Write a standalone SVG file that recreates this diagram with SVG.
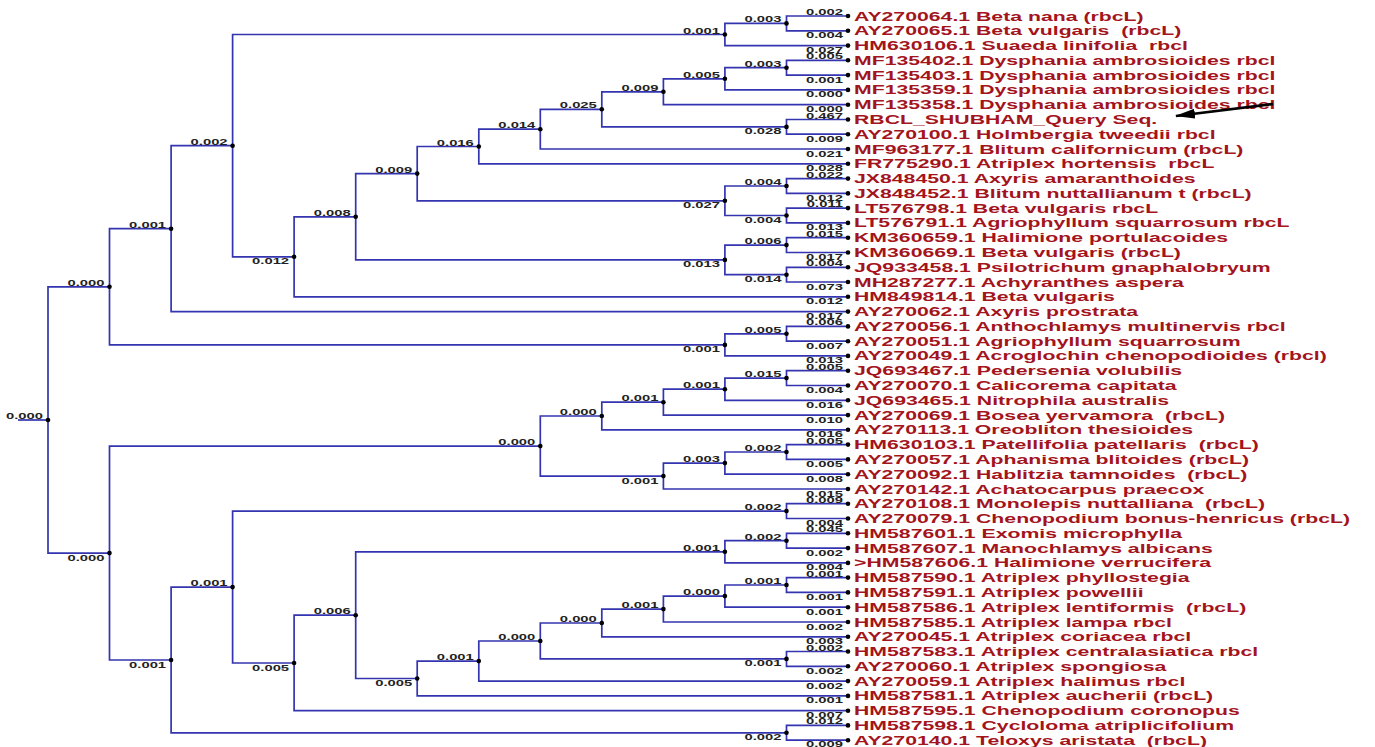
<svg xmlns="http://www.w3.org/2000/svg" width="1375" height="747" viewBox="0 0 1375 747">
<style>
.lf{font-family:"Liberation Sans",Arial,sans-serif;font-weight:bold;font-size:12.5px;fill:#a3141c;white-space:pre}
.bl{font-family:"Liberation Sans",Arial,sans-serif;font-weight:bold;font-size:8.5px;fill:#222;text-anchor:end}
#edges path{fill:none;stroke:#3434b0;stroke-width:1.7}
circle{fill:#000}
</style>
<defs>
<marker id="ah" viewBox="0 0 20 10" refX="19" refY="5" markerWidth="20" markerHeight="10" orient="auto" markerUnits="userSpaceOnUse"><path d="M0 0 L20 5 L0 10 z" fill="#000"/></marker>
</defs>
<rect width="1375" height="747" fill="#fff"/>
<g id="edges">
<path d="M848 16 H786.5 V30.8 H848"/>
<path d="M786.5 23.4 H724.9 V45.6 H848"/>
<path d="M848 60.3 H786.5 V75.1 H848"/>
<path d="M786.5 67.7 H724.9 V89.9 H848"/>
<path d="M724.9 78.8 H663.4 V104.7 H848"/>
<path d="M848 119.5 H786.5 V134.2 H848"/>
<path d="M663.4 91.8 H601.8 V126.9 H786.5"/>
<path d="M601.8 109.3 H540.3 V149 H848"/>
<path d="M540.3 129.2 H478.8 V163.8 H848"/>
<path d="M848 178.6 H786.5 V193.4 H848"/>
<path d="M848 208.1 H786.5 V222.9 H848"/>
<path d="M786.5 186 H724.9 V215.5 H786.5"/>
<path d="M478.8 146.5 H417.2 V200.8 H724.9"/>
<path d="M848 237.7 H786.5 V252.5 H848"/>
<path d="M848 267.3 H786.5 V282 H848"/>
<path d="M786.5 245.1 H724.9 V274.7 H786.5"/>
<path d="M417.2 173.6 H355.7 V259.9 H724.9"/>
<path d="M355.7 216.8 H294.1 V296.8 H848"/>
<path d="M724.9 34.5 H232.6 V256.8 H294.1"/>
<path d="M232.6 145.7 H171.1 V311.6 H848"/>
<path d="M848 326.4 H786.5 V341.2 H848"/>
<path d="M786.5 333.8 H724.9 V355.9 H848"/>
<path d="M171.1 228.7 H109.5 V344.9 H724.9"/>
<path d="M848 370.7 H786.5 V385.5 H848"/>
<path d="M786.5 378.1 H724.9 V400.3 H848"/>
<path d="M724.9 389.2 H663.4 V415.1 H848"/>
<path d="M663.4 402.2 H601.8 V429.8 H848"/>
<path d="M848 444.6 H786.5 V459.4 H848"/>
<path d="M786.5 452 H724.9 V474.2 H848"/>
<path d="M724.9 463.1 H663.4 V489 H848"/>
<path d="M601.8 416 H540.3 V476.1 H663.4"/>
<path d="M848 503.7 H786.5 V518.5 H848"/>
<path d="M848 533.3 H786.5 V548.1 H848"/>
<path d="M786.5 540.7 H724.9 V562.9 H848"/>
<path d="M848 577.6 H786.5 V592.4 H848"/>
<path d="M786.5 585 H724.9 V607.2 H848"/>
<path d="M724.9 596.1 H663.4 V622 H848"/>
<path d="M663.4 609.1 H601.8 V636.8 H848"/>
<path d="M848 651.5 H786.5 V666.3 H848"/>
<path d="M601.8 623 H540.3 V658.9 H786.5"/>
<path d="M540.3 641 H478.8 V681.1 H848"/>
<path d="M478.8 661.1 H417.2 V695.9 H848"/>
<path d="M724.9 551.8 H355.7 V678.5 H417.2"/>
<path d="M355.7 615.2 H294.1 V710.7 H848"/>
<path d="M786.5 511.1 H232.6 V663 H294.1"/>
<path d="M848 725.4 H786.5 V740.2 H848"/>
<path d="M232.6 587.1 H171.1 V732.8 H786.5"/>
<path d="M540.3 446.1 H109.5 V660 H171.1"/>
<path d="M109.5 286.8 H48 V553.1 H109.5"/>
<path d="M18 420 H48"/>
</g>
<g id="nodes">
<g id="n01"><circle cx="786.5" cy="23.4" r="2.3"/><text class="bl" transform="translate(781.5,22.4) scale(1.74,1)">0.003</text></g>
<g id="n012"><circle cx="724.9" cy="34.5" r="2.3"/><text class="bl" transform="translate(719.9,33.5) scale(1.74,1)">0.001</text></g>
<g id="n34"><circle cx="786.5" cy="67.7" r="2.3"/><text class="bl" transform="translate(781.5,66.7) scale(1.74,1)">0.003</text></g>
<g id="n345"><circle cx="724.9" cy="78.8" r="2.3"/><text class="bl" transform="translate(719.9,77.8) scale(1.74,1)">0.005</text></g>
<g id="n3456"><circle cx="663.4" cy="91.8" r="2.3"/><text class="bl" transform="translate(658.4,90.8) scale(1.74,1)">0.009</text></g>
<g id="n78"><circle cx="786.5" cy="126.9" r="2.3"/><text class="bl" transform="translate(781.5,134.4) scale(1.74,1)">0.028</text></g>
<g id="nI"><circle cx="601.8" cy="109.3" r="2.3"/><text class="bl" transform="translate(596.8,108.3) scale(1.74,1)">0.025</text></g>
<g id="nH"><circle cx="540.3" cy="129.2" r="2.3"/><text class="bl" transform="translate(535.3,128.2) scale(1.74,1)">0.014</text></g>
<g id="nG"><circle cx="478.8" cy="146.5" r="2.3"/><text class="bl" transform="translate(473.8,145.5) scale(1.74,1)">0.016</text></g>
<g id="n1112"><circle cx="786.5" cy="186" r="2.3"/><text class="bl" transform="translate(781.5,185) scale(1.74,1)">0.004</text></g>
<g id="n1314"><circle cx="786.5" cy="215.5" r="2.3"/><text class="bl" transform="translate(781.5,223) scale(1.74,1)">0.004</text></g>
<g id="n027"><circle cx="724.9" cy="200.8" r="2.3"/><text class="bl" transform="translate(719.9,208.3) scale(1.74,1)">0.027</text></g>
<g id="nF"><circle cx="417.2" cy="173.6" r="2.3"/><text class="bl" transform="translate(412.2,172.6) scale(1.74,1)">0.009</text></g>
<g id="n1516"><circle cx="786.5" cy="245.1" r="2.3"/><text class="bl" transform="translate(781.5,244.1) scale(1.74,1)">0.006</text></g>
<g id="n1718"><circle cx="786.5" cy="274.7" r="2.3"/><text class="bl" transform="translate(781.5,282.2) scale(1.74,1)">0.014</text></g>
<g id="n013"><circle cx="724.9" cy="259.9" r="2.3"/><text class="bl" transform="translate(719.9,267.4) scale(1.74,1)">0.013</text></g>
<g id="nE"><circle cx="355.7" cy="216.8" r="2.3"/><text class="bl" transform="translate(350.7,215.8) scale(1.74,1)">0.008</text></g>
<g id="nD"><circle cx="294.1" cy="256.8" r="2.3"/><text class="bl" transform="translate(289.1,264.3) scale(1.74,1)">0.012</text></g>
<g id="nC"><circle cx="232.6" cy="145.7" r="2.3"/><text class="bl" transform="translate(227.6,144.7) scale(1.74,1)">0.002</text></g>
<g id="nB"><circle cx="171.1" cy="228.7" r="2.3"/><text class="bl" transform="translate(166.1,227.7) scale(1.74,1)">0.001</text></g>
<g id="n2122"><circle cx="786.5" cy="333.8" r="2.3"/><text class="bl" transform="translate(781.5,332.8) scale(1.74,1)">0.005</text></g>
<g id="nX1"><circle cx="724.9" cy="344.9" r="2.3"/><text class="bl" transform="translate(719.9,352.4) scale(1.74,1)">0.001</text></g>
<g id="nA"><circle cx="109.5" cy="286.8" r="2.3"/><text class="bl" transform="translate(104.5,285.8) scale(1.74,1)">0.000</text></g>
<g id="n2425"><circle cx="786.5" cy="378.1" r="2.3"/><text class="bl" transform="translate(781.5,377.1) scale(1.74,1)">0.015</text></g>
<g id="n26"><circle cx="724.9" cy="389.2" r="2.3"/><text class="bl" transform="translate(719.9,388.2) scale(1.74,1)">0.001</text></g>
<g id="n27"><circle cx="663.4" cy="402.2" r="2.3"/><text class="bl" transform="translate(658.4,401.2) scale(1.74,1)">0.001</text></g>
<g id="n28"><circle cx="601.8" cy="416" r="2.3"/><text class="bl" transform="translate(596.8,415) scale(1.74,1)">0.000</text></g>
<g id="n2930"><circle cx="786.5" cy="452" r="2.3"/><text class="bl" transform="translate(781.5,451) scale(1.74,1)">0.002</text></g>
<g id="n31"><circle cx="724.9" cy="463.1" r="2.3"/><text class="bl" transform="translate(719.9,462.1) scale(1.74,1)">0.003</text></g>
<g id="nM2"><circle cx="663.4" cy="476.1" r="2.3"/><text class="bl" transform="translate(658.4,483.6) scale(1.74,1)">0.001</text></g>
<g id="nM"><circle cx="540.3" cy="446.1" r="2.3"/><text class="bl" transform="translate(535.3,445.1) scale(1.74,1)">0.000</text></g>
<g id="n3334"><circle cx="786.5" cy="511.1" r="2.3"/><text class="bl" transform="translate(781.5,510.1) scale(1.74,1)">0.002</text></g>
<g id="n3536"><circle cx="786.5" cy="540.7" r="2.3"/><text class="bl" transform="translate(781.5,539.7) scale(1.74,1)">0.002</text></g>
<g id="n37"><circle cx="724.9" cy="551.8" r="2.3"/><text class="bl" transform="translate(719.9,550.8) scale(1.74,1)">0.001</text></g>
<g id="n3839"><circle cx="786.5" cy="585" r="2.3"/><text class="bl" transform="translate(781.5,584) scale(1.74,1)">0.001</text></g>
<g id="nN9"><circle cx="724.9" cy="596.1" r="2.3"/><text class="bl" transform="translate(719.9,595.1) scale(1.74,1)">0.000</text></g>
<g id="nN8"><circle cx="663.4" cy="609.1" r="2.3"/><text class="bl" transform="translate(658.4,608.1) scale(1.74,1)">0.001</text></g>
<g id="nN7"><circle cx="601.8" cy="623" r="2.3"/><text class="bl" transform="translate(596.8,622) scale(1.74,1)">0.000</text></g>
<g id="n4344"><circle cx="786.5" cy="658.9" r="2.3"/><text class="bl" transform="translate(781.5,666.4) scale(1.74,1)">0.001</text></g>
<g id="nN6"><circle cx="540.3" cy="641" r="2.3"/><text class="bl" transform="translate(535.3,640) scale(1.74,1)">0.000</text></g>
<g id="nN5"><circle cx="478.8" cy="661.1" r="2.3"/><text class="bl" transform="translate(473.8,660.1) scale(1.74,1)">0.001</text></g>
<g id="nN4"><circle cx="417.2" cy="678.5" r="2.3"/><text class="bl" transform="translate(412.2,686) scale(1.74,1)">0.005</text></g>
<g id="nN3"><circle cx="355.7" cy="615.2" r="2.3"/><text class="bl" transform="translate(350.7,614.2) scale(1.74,1)">0.006</text></g>
<g id="nN2"><circle cx="294.1" cy="663" r="2.3"/><text class="bl" transform="translate(289.1,670.5) scale(1.74,1)">0.005</text></g>
<g id="nN1"><circle cx="232.6" cy="587.1" r="2.3"/><text class="bl" transform="translate(227.6,586.1) scale(1.74,1)">0.001</text></g>
<g id="n4849"><circle cx="786.5" cy="732.8" r="2.3"/><text class="bl" transform="translate(781.5,740.3) scale(1.74,1)">0.002</text></g>
<g id="nN"><circle cx="171.1" cy="660" r="2.3"/><text class="bl" transform="translate(166.1,667.5) scale(1.74,1)">0.001</text></g>
<g id="nR2"><circle cx="109.5" cy="553.1" r="2.3"/><text class="bl" transform="translate(104.5,560.6) scale(1.74,1)">0.000</text></g>
<g id="nRoot"><circle cx="48" cy="420" r="2.3"/><text class="bl" transform="translate(43,419) scale(1.74,1)">0.000</text></g>
</g>
<g id="leaves">
<g id="leaf0"><circle cx="848" cy="16" r="2.3"/><text class="bl" transform="translate(843,15) scale(1.74,1)">0.002</text><text class="lf" transform="translate(854,20.5) scale(1.7,1)">AY270064.1 Beta nana (rbcL)</text></g>
<g id="leaf1"><circle cx="848" cy="30.8" r="2.3"/><text class="bl" transform="translate(843,38.3) scale(1.74,1)">0.004</text><text class="lf" transform="translate(854,35.3) scale(1.7,1)">AY270065.1 Beta vulgaris  (rbcL)</text></g>
<g id="leaf2"><circle cx="848" cy="45.6" r="2.3"/><text class="bl" transform="translate(843,53.1) scale(1.74,1)">0.027</text><text class="lf" transform="translate(854,50.1) scale(1.7,1)">HM630106.1 Suaeda linifolia  rbcl</text></g>
<g id="leaf3"><circle cx="848" cy="60.3" r="2.3"/><text class="bl" transform="translate(843,59.3) scale(1.74,1)">0.005</text><text class="lf" transform="translate(854,64.8) scale(1.7,1)">MF135402.1 Dysphania ambrosioides rbcl</text></g>
<g id="leaf4"><circle cx="848" cy="75.1" r="2.3"/><text class="bl" transform="translate(843,82.6) scale(1.74,1)">0.001</text><text class="lf" transform="translate(854,79.6) scale(1.7,1)">MF135403.1 Dysphania ambrosioides rbcl</text></g>
<g id="leaf5"><circle cx="848" cy="89.9" r="2.3"/><text class="bl" transform="translate(843,97.4) scale(1.74,1)">0.000</text><text class="lf" transform="translate(854,94.4) scale(1.7,1)">MF135359.1 Dysphania ambrosioides rbcl</text></g>
<g id="leaf6"><circle cx="848" cy="104.7" r="2.3"/><text class="bl" transform="translate(843,112.2) scale(1.74,1)">0.000</text><text class="lf" transform="translate(854,109.2) scale(1.7,1)">MF135358.1 Dysphania ambrosioides rbcl</text></g>
<g id="leaf7"><circle cx="848" cy="119.5" r="2.3"/><text class="bl" transform="translate(843,118.5) scale(1.74,1)">0.467</text><text class="lf" transform="translate(854,124) scale(1.7,1)">RBCL_SHUBHAM_Query Seq.</text></g>
<g id="leaf8"><circle cx="848" cy="134.2" r="2.3"/><text class="bl" transform="translate(843,141.7) scale(1.74,1)">0.009</text><text class="lf" transform="translate(854,138.7) scale(1.7,1)">AY270100.1 Holmbergia tweedii rbcl</text></g>
<g id="leaf9"><circle cx="848" cy="149" r="2.3"/><text class="bl" transform="translate(843,156.5) scale(1.74,1)">0.021</text><text class="lf" transform="translate(854,153.5) scale(1.7,1)">MF963177.1 Blitum californicum (rbcL)</text></g>
<g id="leaf10"><circle cx="848" cy="163.8" r="2.3"/><text class="bl" transform="translate(843,171.3) scale(1.74,1)">0.028</text><text class="lf" transform="translate(854,168.3) scale(1.7,1)">FR775290.1 Atriplex hortensis  rbcL</text></g>
<g id="leaf11"><circle cx="848" cy="178.6" r="2.3"/><text class="bl" transform="translate(843,177.6) scale(1.74,1)">0.022</text><text class="lf" transform="translate(854,183.1) scale(1.7,1)">JX848450.1 Axyris amaranthoides</text></g>
<g id="leaf12"><circle cx="848" cy="193.4" r="2.3"/><text class="bl" transform="translate(843,200.9) scale(1.74,1)">0.012</text><text class="lf" transform="translate(854,197.9) scale(1.7,1)">JX848452.1 Blitum nuttallianum t (rbcL)</text></g>
<g id="leaf13"><circle cx="848" cy="208.1" r="2.3"/><text class="bl" transform="translate(843,207.1) scale(1.74,1)">0.011</text><text class="lf" transform="translate(854,212.6) scale(1.7,1)">LT576798.1 Beta vulgaris rbcL</text></g>
<g id="leaf14"><circle cx="848" cy="222.9" r="2.3"/><text class="bl" transform="translate(843,230.4) scale(1.74,1)">0.013</text><text class="lf" transform="translate(854,227.4) scale(1.7,1)">LT576791.1 Agriophyllum squarrosum rbcL</text></g>
<g id="leaf15"><circle cx="848" cy="237.7" r="2.3"/><text class="bl" transform="translate(843,236.7) scale(1.74,1)">0.015</text><text class="lf" transform="translate(854,242.2) scale(1.7,1)">KM360659.1 Halimione portulacoides</text></g>
<g id="leaf16"><circle cx="848" cy="252.5" r="2.3"/><text class="bl" transform="translate(843,260) scale(1.74,1)">0.017</text><text class="lf" transform="translate(854,257) scale(1.7,1)">KM360669.1 Beta vulgaris (rbcL)</text></g>
<g id="leaf17"><circle cx="848" cy="267.3" r="2.3"/><text class="bl" transform="translate(843,266.3) scale(1.74,1)">0.004</text><text class="lf" transform="translate(854,271.8) scale(1.7,1)">JQ933458.1 Psilotrichum gnaphalobryum</text></g>
<g id="leaf18"><circle cx="848" cy="282" r="2.3"/><text class="bl" transform="translate(843,289.5) scale(1.74,1)">0.073</text><text class="lf" transform="translate(854,286.5) scale(1.7,1)">MH287277.1 Achyranthes aspera</text></g>
<g id="leaf19"><circle cx="848" cy="296.8" r="2.3"/><text class="bl" transform="translate(843,304.3) scale(1.74,1)">0.012</text><text class="lf" transform="translate(854,301.3) scale(1.7,1)">HM849814.1 Beta vulgaris</text></g>
<g id="leaf20"><circle cx="848" cy="311.6" r="2.3"/><text class="bl" transform="translate(843,319.1) scale(1.74,1)">0.017</text><text class="lf" transform="translate(854,316.1) scale(1.7,1)">AY270062.1 Axyris prostrata</text></g>
<g id="leaf21"><circle cx="848" cy="326.4" r="2.3"/><text class="bl" transform="translate(843,325.4) scale(1.74,1)">0.006</text><text class="lf" transform="translate(854,330.9) scale(1.7,1)">AY270056.1 Anthochlamys multinervis rbcl</text></g>
<g id="leaf22"><circle cx="848" cy="341.2" r="2.3"/><text class="bl" transform="translate(843,348.7) scale(1.74,1)">0.007</text><text class="lf" transform="translate(854,345.7) scale(1.7,1)">AY270051.1 Agriophyllum squarrosum</text></g>
<g id="leaf23"><circle cx="848" cy="355.9" r="2.3"/><text class="bl" transform="translate(843,363.4) scale(1.74,1)">0.013</text><text class="lf" transform="translate(854,360.4) scale(1.7,1)">AY270049.1 Acroglochin chenopodioides (rbcl)</text></g>
<g id="leaf24"><circle cx="848" cy="370.7" r="2.3"/><text class="bl" transform="translate(843,369.7) scale(1.74,1)">0.005</text><text class="lf" transform="translate(854,375.2) scale(1.7,1)">JQ693467.1 Pedersenia volubilis</text></g>
<g id="leaf25"><circle cx="848" cy="385.5" r="2.3"/><text class="bl" transform="translate(843,393) scale(1.74,1)">0.004</text><text class="lf" transform="translate(854,390) scale(1.7,1)">AY270070.1 Calicorema capitata</text></g>
<g id="leaf26"><circle cx="848" cy="400.3" r="2.3"/><text class="bl" transform="translate(843,407.8) scale(1.74,1)">0.016</text><text class="lf" transform="translate(854,404.8) scale(1.7,1)">JQ693465.1 Nitrophila australis</text></g>
<g id="leaf27"><circle cx="848" cy="415.1" r="2.3"/><text class="bl" transform="translate(843,422.6) scale(1.74,1)">0.010</text><text class="lf" transform="translate(854,419.6) scale(1.7,1)">AY270069.1 Bosea yervamora  (rbcL)</text></g>
<g id="leaf28"><circle cx="848" cy="429.8" r="2.3"/><text class="bl" transform="translate(843,437.3) scale(1.74,1)">0.016</text><text class="lf" transform="translate(854,434.3) scale(1.7,1)">AY270113.1 Oreobliton thesioides</text></g>
<g id="leaf29"><circle cx="848" cy="444.6" r="2.3"/><text class="bl" transform="translate(843,443.6) scale(1.74,1)">0.005</text><text class="lf" transform="translate(854,449.1) scale(1.7,1)">HM630103.1 Patellifolia patellaris  (rbcL)</text></g>
<g id="leaf30"><circle cx="848" cy="459.4" r="2.3"/><text class="bl" transform="translate(843,466.9) scale(1.74,1)">0.005</text><text class="lf" transform="translate(854,463.9) scale(1.7,1)">AY270057.1 Aphanisma blitoides (rbcL)</text></g>
<g id="leaf31"><circle cx="848" cy="474.2" r="2.3"/><text class="bl" transform="translate(843,481.7) scale(1.74,1)">0.008</text><text class="lf" transform="translate(854,478.7) scale(1.7,1)">AY270092.1 Hablitzia tamnoides  (rbcL)</text></g>
<g id="leaf32"><circle cx="848" cy="489" r="2.3"/><text class="bl" transform="translate(843,496.5) scale(1.74,1)">0.015</text><text class="lf" transform="translate(854,493.5) scale(1.7,1)">AY270142.1 Achatocarpus praecox</text></g>
<g id="leaf33"><circle cx="848" cy="503.7" r="2.3"/><text class="bl" transform="translate(843,502.7) scale(1.74,1)">0.009</text><text class="lf" transform="translate(854,508.2) scale(1.7,1)">AY270108.1 Monolepis nuttalliana  (rbcL)</text></g>
<g id="leaf34"><circle cx="848" cy="518.5" r="2.3"/><text class="bl" transform="translate(843,526) scale(1.74,1)">0.004</text><text class="lf" transform="translate(854,523) scale(1.7,1)">AY270079.1 Chenopodium bonus-henricus (rbcL)</text></g>
<g id="leaf35"><circle cx="848" cy="533.3" r="2.3"/><text class="bl" transform="translate(843,532.3) scale(1.74,1)">0.045</text><text class="lf" transform="translate(854,537.8) scale(1.7,1)">HM587601.1 Exomis microphylla</text></g>
<g id="leaf36"><circle cx="848" cy="548.1" r="2.3"/><text class="bl" transform="translate(843,555.6) scale(1.74,1)">0.002</text><text class="lf" transform="translate(854,552.6) scale(1.7,1)">HM587607.1 Manochlamys albicans</text></g>
<g id="leaf37"><circle cx="848" cy="562.9" r="2.3"/><text class="bl" transform="translate(843,570.4) scale(1.74,1)">0.004</text><text class="lf" transform="translate(854,567.4) scale(1.7,1)">&gt;HM587606.1 Halimione verrucifera</text></g>
<g id="leaf38"><circle cx="848" cy="577.6" r="2.3"/><text class="bl" transform="translate(843,576.6) scale(1.74,1)">0.001</text><text class="lf" transform="translate(854,582.1) scale(1.7,1)">HM587590.1 Atriplex phyllostegia</text></g>
<g id="leaf39"><circle cx="848" cy="592.4" r="2.3"/><text class="bl" transform="translate(843,599.9) scale(1.74,1)">0.001</text><text class="lf" transform="translate(854,596.9) scale(1.7,1)">HM587591.1 Atriplex powellii</text></g>
<g id="leaf40"><circle cx="848" cy="607.2" r="2.3"/><text class="bl" transform="translate(843,614.7) scale(1.74,1)">0.001</text><text class="lf" transform="translate(854,611.7) scale(1.7,1)">HM587586.1 Atriplex lentiformis  (rbcL)</text></g>
<g id="leaf41"><circle cx="848" cy="622" r="2.3"/><text class="bl" transform="translate(843,629.5) scale(1.74,1)">0.002</text><text class="lf" transform="translate(854,626.5) scale(1.7,1)">HM587585.1 Atriplex lampa rbcl</text></g>
<g id="leaf42"><circle cx="848" cy="636.8" r="2.3"/><text class="bl" transform="translate(843,644.3) scale(1.74,1)">0.003</text><text class="lf" transform="translate(854,641.3) scale(1.7,1)">AY270045.1 Atriplex coriacea rbcl</text></g>
<g id="leaf43"><circle cx="848" cy="651.5" r="2.3"/><text class="bl" transform="translate(843,650.5) scale(1.74,1)">0.002</text><text class="lf" transform="translate(854,656) scale(1.7,1)">HM587583.1 Atriplex centralasiatica rbcl</text></g>
<g id="leaf44"><circle cx="848" cy="666.3" r="2.3"/><text class="bl" transform="translate(843,673.8) scale(1.74,1)">0.002</text><text class="lf" transform="translate(854,670.8) scale(1.7,1)">AY270060.1 Atriplex spongiosa</text></g>
<g id="leaf45"><circle cx="848" cy="681.1" r="2.3"/><text class="bl" transform="translate(843,688.6) scale(1.74,1)">0.002</text><text class="lf" transform="translate(854,685.6) scale(1.7,1)">AY270059.1 Atriplex halimus rbcl</text></g>
<g id="leaf46"><circle cx="848" cy="695.9" r="2.3"/><text class="bl" transform="translate(843,703.4) scale(1.74,1)">0.001</text><text class="lf" transform="translate(854,700.4) scale(1.7,1)">HM587581.1 Atriplex aucherii (rbcL)</text></g>
<g id="leaf47"><circle cx="848" cy="710.7" r="2.3"/><text class="bl" transform="translate(843,718.2) scale(1.74,1)">0.007</text><text class="lf" transform="translate(854,715.2) scale(1.7,1)">HM587595.1 Chenopodium coronopus</text></g>
<g id="leaf48"><circle cx="848" cy="725.4" r="2.3"/><text class="bl" transform="translate(843,724.4) scale(1.74,1)">0.012</text><text class="lf" transform="translate(854,729.9) scale(1.7,1)">HM587598.1 Cycloloma atriplicifolium</text></g>
<g id="leaf49"><circle cx="848" cy="740.2" r="2.3"/><text class="bl" transform="translate(843,746.5) scale(1.74,1)">0.009</text><text class="lf" transform="translate(854,744.7) scale(1.7,1)">AY270140.1 Teloxys aristata  (rbcL)</text></g>
</g>
<g id="arrow"><path d="M1273 104 L1176 116" stroke="#000" stroke-width="2.5" fill="none" marker-end="url(#ah)"/></g>
</svg>
